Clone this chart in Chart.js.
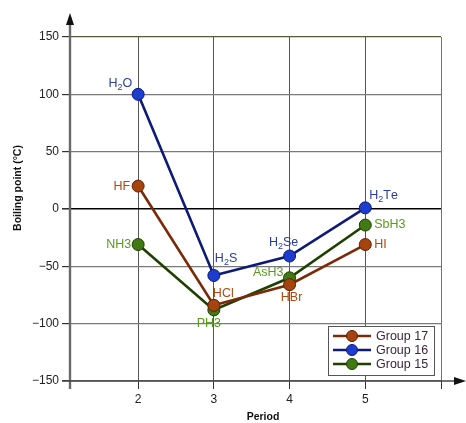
<!DOCTYPE html>
<html>
<head>
<meta charset="utf-8">
<script src="https://cdn.jsdelivr.net/npm/chart.js@4.4.1/dist/chart.umd.min.js"></script>
<style>
  html, body { margin: 0; padding: 0; background: #fff; }
</style>
</head>
<body>
<canvas id="chart" width="466" height="423"></canvas>
<script>
// ==================== DATA ====================
const periods = [2, 3, 4, 5];
const group17 = [20, -84, -66, -31];
const group16 = [100, -58, -41, 1];
const group15 = [-31, -88, -60, -14];
const names17 = ['HF', 'HCl', 'HBr', 'HI'];
const names16 = ['H_2O', 'H_2S', 'H_2Se', 'H_2Te'];   // _2 = subscript
const names15 = ['NH3', 'PH3', 'AsH3', 'SbH3'];
const yTicks = [-150, -100, -50, 0, 50, 100, 150];
const xTicks = [2, 3, 4, 5, 6];

// label placement next to each point: [align, dx, dy]
const place17 = [['right', -8, 0], ['left', -1, -12], ['center', 2, 13], ['left', 9, 0]];
const place16 = [['right', -6, -11], ['left', 1, -17], ['center', -6, -13], ['left', 4, -12]];
const place15 = [['right', -7, 0], ['center', -5, 14], ['right', -6, -5], ['left', 9, -1]];

const FONT = "'Liberation Sans', Arial, sans-serif";

function toPoints(vals){ return periods.map((p, i) => ({x: p, y: vals[i]})); }

function series(label, vals, names, place, line, fill, edge, text){
  return {
    label: label, data: toPoints(vals), names: names, place: place, textColor: text,
    borderColor: line, backgroundColor: fill, pointBackgroundColor: fill,
    pointBorderColor: edge, pointBorderWidth: 1, pointRadius: 6, borderWidth: 2.6,
    tension: 0, fill: false
  };
}

// ==================== TEXT WITH SUBSCRIPTS ====================
function richParts(str){
  const parts = [];
  for (let i = 0; i < str.length; i++){
    if (str[i] === '_'){ parts.push({t: str[i+1], sub: true}); i++; }
    else parts.push({t: str[i], sub: false});
  }
  return parts;
}
function drawRich(ctx, str, x, y, align){
  const parts = richParts(str);
  const big = '12.5px ' + FONT, small = '9px ' + FONT;
  let w = 0;
  parts.forEach(p => { ctx.font = p.sub ? small : big; p.w = ctx.measureText(p.t).width; w += p.w; });
  let cx = align === 'right' ? x - w : align === 'center' ? x - w / 2 : x;
  ctx.textBaseline = 'middle';
  ctx.textAlign = 'left';
  parts.forEach(p => {
    ctx.font = p.sub ? small : big;
    ctx.fillText(p.t, cx, p.sub ? y + 4 : y);
    cx += p.w;
  });
}

// ==================== PLUGINS ====================
const pointLabels = {
  id: 'pointLabels',
  afterDatasetsDraw(chart){
    const ctx = chart.ctx;
    ctx.save();
    chart.data.datasets.forEach((ds, i) => {
      const meta = chart.getDatasetMeta(i);
      ctx.fillStyle = ds.textColor;
      meta.data.forEach((pt, j) => {
        const [align, dx, dy] = ds.place[j];
        drawRich(ctx, ds.names[j], pt.x + dx, pt.y + dy, align);
      });
    });
    ctx.restore();
  }
};

const axesAndLegend = {
  id: 'axesAndLegend',
  afterDraw(chart){
    const ctx = chart.ctx, a = chart.chartArea;
    ctx.save();
    // y axis with arrow
    ctx.strokeStyle = '#6a6a6a'; ctx.lineWidth = 2.4;
    ctx.beginPath(); ctx.moveTo(a.left, a.bottom + 8); ctx.lineTo(a.left, a.top - 20); ctx.stroke();
    ctx.fillStyle = '#111';
    ctx.beginPath(); ctx.moveTo(a.left, a.top - 24); ctx.lineTo(a.left - 4, a.top - 12); ctx.lineTo(a.left + 4, a.top - 12); ctx.closePath(); ctx.fill();
    // x axis with arrow
    ctx.strokeStyle = '#444'; ctx.lineWidth = 1.5;
    ctx.beginPath(); ctx.moveTo(a.left - 8, a.bottom); ctx.lineTo(a.right + 16, a.bottom); ctx.stroke();
    ctx.beginPath(); ctx.moveTo(a.right + 25, a.bottom); ctx.lineTo(a.right + 13, a.bottom - 4); ctx.lineTo(a.right + 13, a.bottom + 4); ctx.closePath(); ctx.fill();

    // axis titles
    ctx.fillStyle = '#111';
    ctx.font = 'bold 10.5px ' + FONT;
    ctx.textAlign = 'center'; ctx.textBaseline = 'middle';
    ctx.fillText('Period', 263, 417);
    ctx.save();
    ctx.translate(18, 188); ctx.rotate(-Math.PI / 2);
    ctx.fillText('Boiling point (°C)', 0, 0);
    ctx.restore();

    // legend box
    const bw = 106, bh = 49;
    const bx = a.right - 113, by = a.bottom - 6 - bh;
    ctx.fillStyle = '#fff'; ctx.fillRect(bx, by, bw, bh);
    ctx.strokeStyle = '#555'; ctx.lineWidth = 1;
    ctx.strokeRect(bx + 0.5, by + 0.5, bw, bh);
    chart.data.datasets.forEach((ds, i) => {
      const y = by + 10 + i * 14;
      ctx.strokeStyle = ds.borderColor; ctx.lineWidth = 2.6;
      ctx.beginPath(); ctx.moveTo(bx + 5, y); ctx.lineTo(bx + 43, y); ctx.stroke();
      ctx.fillStyle = ds.backgroundColor; ctx.strokeStyle = ds.pointBorderColor; ctx.lineWidth = 1;
      ctx.beginPath(); ctx.arc(bx + 24, y, 5.5, 0, Math.PI * 2); ctx.fill(); ctx.stroke();
      ctx.fillStyle = '#3a2638'; ctx.font = '12.5px ' + FONT;
      ctx.textAlign = 'left'; ctx.textBaseline = 'middle';
      ctx.fillText(ds.label, bx + 48, y + 1);
    });
    ctx.restore();
  }
};

// ==================== CHART ====================
const ctx = document.getElementById('chart');
new Chart(ctx, {
  type: 'line',
  data: {
    datasets: [
      series('Group 17', group17, names17, place17, '#7a2a06', '#a5440f', '#5e2004', '#b3470f'),
      series('Group 16', group16, names16, place16, '#0d1a78', '#1d3dd0', '#0d1a78', '#2b3c9e'),
      series('Group 15', group15, names15, place15, '#1f4000', '#417a14', '#1f4000', '#5b9a1d')
    ]
  },
  options: {
    responsive: false,
    animation: false,
    devicePixelRatio: 1,
    layout: { padding: { top: 37, right: 25, left: 0, bottom: 0 } },
    plugins: { legend: { display: false }, tooltip: { enabled: false } },
    scales: {
      x: {
        type: 'linear', min: 1.1, max: 6,
        afterFit: s => { s.height = 42; },
        afterBuildTicks: s => { s.ticks = xTicks.map(v => ({value: v})); },
        border: { display: false },
        grid: {
          color: c => c.tick && c.tick.value === 6 ? '#7a7a50' : '#555',
          lineWidth: 1, tickLength: 8, tickColor: '#333'
        },
        ticks: {
          color: '#222', font: { family: FONT, size: 12 }, padding: 3,
          callback: v => v === 6 ? '' : String(v)
        }
      },
      y: {
        min: -150, max: 150,
        afterFit: s => { s.width = 70; },
        afterBuildTicks: s => { s.ticks = yTicks.map(v => ({value: v})); },
        border: { display: false },
        grid: {
          color: c => c.tick && c.tick.value === 0 ? '#000' : (c.tick && c.tick.value === 150 ? '#5a5a38' : '#7a7a7a'),
          lineWidth: c => c.tick && c.tick.value === 0 ? 1.6 : 1.2,
          tickLength: 8, tickColor: '#333'
        },
        ticks: {
          color: '#222', font: { family: FONT, size: 12 }, padding: 3,
          callback: v => String(v).replace('-', '\u2212')
        }
      }
    }
  },
  plugins: [pointLabels, axesAndLegend]
});
</script>
</body>
</html>
